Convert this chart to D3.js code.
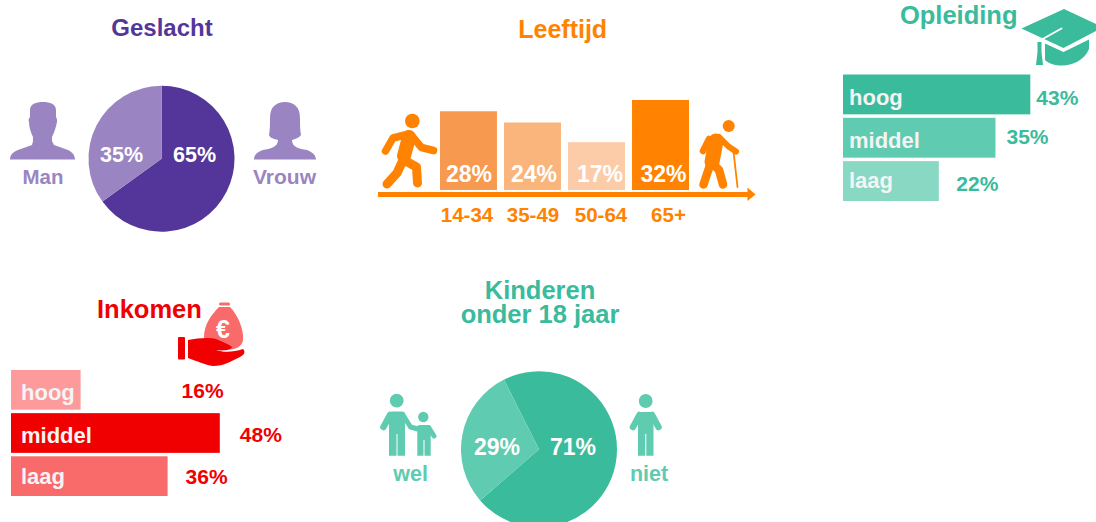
<!DOCTYPE html>
<html>
<head>
<meta charset="UTF-8">
<title>Profiel</title>
<script src="https://d3js.org/d3.v7.min.js"></script>
<style>
  html, body { margin: 0; padding: 0; background: #fff; overflow: hidden; }
  svg { display: block; }
  text { font-family: "Liberation Sans", Arial, sans-serif; font-weight: bold; }
</style>
</head>
<body>
<script>
  // data
  const geslachtLabels = ["Vrouw", "Man"];
  const geslachtValues = [65, 35];

  const leeftijdLabels = ["14-34", "35-49", "50-64", "65+"];
  const leeftijdValues = [28, 24, 17, 32];

  const opleidingLabels = ["hoog", "middel", "laag"];
  const opleidingValues = [43, 35, 22];

  const inkomenLabels = ["hoog", "middel", "laag"];
  const inkomenValues = [16, 48, 36];

  const kinderenLabels = ["niet", "wel"];
  const kinderenValues = [71, 29];

  const purple = ["#54369a", "#9a85c2"];
  const orange = "#ff8200";
  const orangeBars = ["#f79a50", "#f9b57c", "#fccba7", "#ff8200"];
  const green = ["#3abb9b", "#5fcbb0", "#88d8c3"];
  const red = ["#fd9a9b", "#f00000", "#f96a6a"];

  const svg = d3.select("body").append("svg")
    .attr("width", 1096)
    .attr("height", 522);

  function label(str, x, y, size, fill, anchor) {
    return svg.append("text")
      .attr("x", x)
      .attr("y", y)
      .attr("font-size", size)
      .attr("fill", fill)
      .attr("text-anchor", anchor || "start")
      .text(str);
  }

  // group for the stick figures, limbs are round strokes
  function figure(color) {
    return svg.append("g")
      .attr("fill", "none")
      .attr("stroke", color)
      .attr("stroke-linecap", "round")
      .attr("stroke-linejoin", "round");
  }

  function limb(g, width, d) {
    g.append("path").attr("stroke-width", width).attr("d", d);
  }

  function head(g, cx, cy, r, color) {
    g.append("circle")
      .attr("cx", cx).attr("cy", cy).attr("r", r)
      .attr("fill", color).attr("stroke", "none");
  }

  // pies
  function drawPie(values, cx, cy, r, startDeg, colors) {
    const start = startDeg * Math.PI / 180;
    const pie = d3.pie().sort(null).startAngle(start).endAngle(start + 2 * Math.PI);
    const arc = d3.arc().innerRadius(0).outerRadius(r);
    svg.append("g")
      .attr("transform", "translate(" + cx + "," + cy + ")")
      .selectAll("path")
      .data(pie(values))
      .enter()
      .append("path")
      .attr("d", arc)
      .attr("fill", (d, i) => colors[i]);
  }

  // horizontal bars, labels inside and the percentage to the right
  function drawHBars(labels, values, x0, x1, maxValue, y0, y1, colors, textX, textYs, pctDx, pctYs, pctColor) {
    const x = d3.scaleLinear().domain([0, maxValue]).range([x0, x1]);
    const y = d3.scaleBand().domain(labels).range([y0, y1]).paddingInner(0.08);

    svg.append("g").selectAll("rect")
      .data(values)
      .enter()
      .append("rect")
      .attr("x", x0)
      .attr("y", (d, i) => y(labels[i]))
      .attr("width", d => x(d) - x0)
      .attr("height", y.bandwidth())
      .attr("fill", (d, i) => colors[i]);

    labels.forEach((l, i) => {
      label(l, textX, textYs[i], 22, "#f4f4f4");
      label(values[i] + "%", x(values[i]) + pctDx[i], pctYs[i], 21, pctColor);
    });
  }

  // Geslacht
  label("Geslacht", 162, 36, 24, purple[0], "middle");
  drawPie(geslachtValues, 161.5, 158.7, 73, 0, purple);
  label(geslachtValues[0] + "%", 173, 161.5, 21.5, "#fff");
  label(geslachtValues[1] + "%", 100, 161.5, 21.5, "#fff");
  label(geslachtLabels[1], 43, 183.5, 20.5, purple[1], "middle");
  label(geslachtLabels[0], 284.5, 183.5, 21, purple[1], "middle");

  svg.append("path")
    .attr("fill", purple[1])
    .attr("d", "M10,159.5 C10,155 13,152 18,150 L32,145 L33,141 L33,137 C31,133 29,127 29,122 C28,120 29,118 30,117 L30,110 C30,104 36,102 43,102 C50,102 56,104 56,110 L56,117 C57,118 57,120 57,122 C56,127 54,133 52,137 L52,141 L54,145 L68,150 C72,152 75,155 75,159.5 Z");
  svg.append("path")
    .attr("fill", purple[1])
    .attr("d", "M254,159.5 C254,155 257,152 263,150 C270,149 278,147 278,140 C274,139 270,138 269,135 C270,130 270,125 270,118 C270,107 276,102 285,102 C294,102 300,107 300,118 C300,125 300,130 301,135 C299,138 295,139 292,140 C292,147 299,149 307,150 C312,152 316,155 316,159.5 Z");

  // Leeftijd
  label("Leeftijd", 562.7, 38.3, 25, orange, "middle");

  const ageX = d3.scaleBand().domain(leeftijdLabels).range([440, 689]).paddingInner(0.11);
  const ageY = d3.scaleLinear().domain([0, 32]).range([190, 100]);

  svg.append("g").selectAll("rect")
    .data(leeftijdValues)
    .enter()
    .append("rect")
    .attr("x", (d, i) => ageX(leeftijdLabels[i]))
    .attr("y", d => ageY(d))
    .attr("width", ageX.bandwidth())
    .attr("height", d => ageY(0) - ageY(d))
    .attr("fill", (d, i) => orangeBars[i]);

  const agePctDx = [0.5, 1.5, 3.5, 3];
  const ageLabelDx = [-1.5, 0.5, 4.5, 8];
  leeftijdLabels.forEach((l, i) => {
    const mid = ageX(l) + ageX.bandwidth() / 2;
    label(leeftijdValues[i] + "%", mid + agePctDx[i], 182, 23, "#fff", "middle");
    label(l, mid + ageLabelDx[i], 221.5, 20.5, orange, "middle");
  });

  // arrow
  svg.append("line")
    .attr("x1", 378).attr("y1", 194.5).attr("x2", 750).attr("y2", 194.5)
    .attr("stroke", orange).attr("stroke-width", 5);
  svg.append("path")
    .attr("fill", orange)
    .attr("d", "M747.5,187.5 L755.5,194.5 L747.5,201 Z");

  // walking figure
  const walker = figure(orange);
  head(walker, 412.3, 121, 7.3, orange);
  limb(walker, 14, "M409,137 L404,156");
  limb(walker, 7.5, "M409,134 L393,138 L385.5,151");
  limb(walker, 7.5, "M411,135 L421.5,147.5 L433.5,150.5");
  limb(walker, 9, "M403,160 L397,173 L387,184");
  limb(walker, 9, "M404,160 L416.5,167 L417.5,183");

  // old man with cane
  const oldMan = figure(orange);
  head(oldMan, 728.7, 126, 6, orange);
  limb(oldMan, 15, "M716,141 L712,162");
  limb(oldMan, 6.5, "M709,139 L703,151");
  limb(oldMan, 6, "M719,137 L728.5,146.5 L736,151.5");
  limb(oldMan, 8.5, "M710,165 L703.5,184.5");
  limb(oldMan, 8.5, "M714,165 L719,170 L723,184.5");
  limb(oldMan, 1.8, "M733.5,151.5 L737.5,187");

  // Opleiding
  label("Opleiding", 958.7, 23.5, 25.5, green[0], "middle");
  drawHBars(opleidingLabels, opleidingValues, 843, 1030.3, 43, 74.5, 201, green,
    849, [105, 147.5, 188], [6, 11, 17.5], [105, 144, 190.5], green[0]);

  // graduation cap
  svg.append("path")
    .attr("fill", green[0])
    .attr("d", "M1064,9 L1096,24 L1096,31 L1063.5,48 L1021.5,28.5 Z");
  svg.append("path")
    .attr("fill", green[0])
    .attr("d", "M1045,43.5 L1063.5,52 L1089,39.5 L1089,49 C1085,60 1072,65.5 1062,65.5 C1055,65.5 1048,63.5 1045,60 Z");
  svg.append("path")
    .attr("fill", "none")
    .attr("stroke", "#fff")
    .attr("stroke-width", 2)
    .attr("stroke-linecap", "round")
    .attr("d", "M1040,40.5 L1061.5,28.5");
  svg.append("path")
    .attr("fill", green[0])
    .attr("d", "M1037.5,42 L1041.5,42 L1041.5,52 L1043,65 L1036,65 L1037.5,52 Z");

  // Inkomen
  label("Inkomen", 97, 317.5, 25.5, red[1]);
  drawHBars(inkomenLabels, inkomenValues, 11, 219.8, 48, 370, 496, red,
    21, [400, 442.5, 483.5], [101, 20, 18], [397.5, 441.7, 484.3], red[1]);

  // money bag on a hand
  svg.append("rect")
    .attr("x", 219).attr("y", 302.5).attr("width", 11).attr("height", 3)
    .attr("rx", 1.5).attr("fill", red[2]);
  svg.append("path")
    .attr("fill", red[2])
    .attr("d", "M219,307 L230,307 C238,315 244,330 243,340 C242,347 235,350 224,350 C212,350 205,345 204,337 C204,325 211,315 219,307 Z");
  label("€", 223, 338, 25, "#fff", "middle");
  svg.append("rect")
    .attr("x", 178).attr("y", 337).attr("width", 7).attr("height", 22.5)
    .attr("rx", 1).attr("fill", red[1]);
  svg.append("path")
    .attr("fill", red[1])
    .attr("d", "M188,340 C198,338 209,337 216,339 C222,342 229,344 232,347 C231,350 224,351 216,350 C224,353 234,352 243,349 C246,352 244,355 240,357 C232,361 224,366 213,366 C205,365 197,361 188,358 Z");

  // Kinderen, one text with two lines
  const kinderenTitle = svg.append("text")
    .attr("font-size", 25.5)
    .attr("fill", green[0])
    .attr("text-anchor", "middle");
  kinderenTitle.append("tspan").attr("x", 540).attr("y", 299.3).text("Kinderen");
  kinderenTitle.append("tspan").attr("x", 540).attr("y", 323.3).text("onder 18 jaar");

  drawPie(kinderenValues, 539, 449.3, 78, -26.6, [green[0], green[1]]);
  label(kinderenValues[0] + "%", 550, 455, 23, "#fff");
  label(kinderenValues[1] + "%", 474, 455, 23, "#fff");
  label(kinderenLabels[1], 410.7, 480.7, 21.5, green[1], "middle");
  label(kinderenLabels[0], 649, 480.7, 21.5, green[1], "middle");

  // parent and child
  const family = figure(green[1]);
  head(family, 396.7, 400.7, 6.9, green[1]);
  head(family, 423.3, 417, 5.2, green[1]);
  family.append("g").attr("fill", green[1]).attr("stroke", "none")
    .selectAll("path")
    .data([
      "M392,411.5 L402,411.5 C404,411.5 405,412.5 405,414 L405,455.7 L397.5,455.7 L397.5,434 L396.5,434 L396.5,455.7 L389,455.7 L389,414 C389,412.5 390,411.5 392,411.5 Z",
      "M419.5,425 L428.5,425 C430,425 430.7,426 430.7,427 L430.7,455.7 L424.5,455.7 L424.5,440 L423.5,440 L423.5,455.7 L417.3,455.7 L417.3,427 C417.3,426 418,425 419.5,425 Z"
    ])
    .enter()
    .append("path")
    .attr("d", d => d);
  limb(family, 6.5, "M390,415 L383.5,427");
  limb(family, 5, "M403,415 L410.5,427 L418,429");
  limb(family, 5, "M429,428 L434,436");

  // single person
  const person = figure(green[1]);
  head(person, 645.7, 401, 6.9, green[1]);
  person.append("path")
    .attr("fill", green[1]).attr("stroke", "none")
    .attr("d", "M641,412 L650.5,412 C652.5,412 653.5,413 653.5,415 L653.5,455.7 L646.3,455.7 L646.3,434 L645.2,434 L645.2,455.7 L638,455.7 L638,415 C638,413 639,412 641,412 Z");
  limb(person, 6.5, "M639.5,415 L633,427");
  limb(person, 6.5, "M652,415 L658.5,427");
</script>
</body>
</html>
